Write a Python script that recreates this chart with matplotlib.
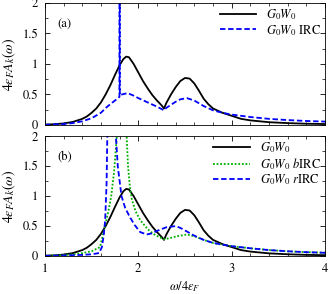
import matplotlib
matplotlib.use('Agg')
import matplotlib.pyplot as plt
from matplotlib.ticker import MultipleLocator

plt.rcParams['font.family'] = ['STIXGeneral', 'DejaVu Serif']
plt.rcParams['mathtext.fontset'] = 'stix'
plt.rcParams['font.size'] = 9

# G0W0 (same in both panels)
w_g0w0 = [1.0, 1.1, 1.2, 1.3, 1.4, 1.45, 1.5, 1.55, 1.6, 1.65, 1.7, 1.75, 1.8, 1.84,
          1.87, 1.9, 1.95, 2.0, 2.05, 2.1, 2.15, 2.2, 2.25, 2.275, 2.3, 2.35, 2.4,
          2.45, 2.5, 2.55, 2.6, 2.65, 2.7, 2.75, 2.8, 2.9, 3.0, 3.1, 3.2, 3.4, 3.6,
          3.8, 4.0]
a_g0w0 = [0.005, 0.012, 0.025, 0.05, 0.1, 0.14, 0.2, 0.27, 0.37, 0.5, 0.65, 0.82, 0.98,
          1.08, 1.12, 1.11, 1.0, 0.86, 0.72, 0.6, 0.49, 0.4, 0.32, 0.27, 0.36, 0.5,
          0.62, 0.72, 0.77, 0.76, 0.68, 0.56, 0.43, 0.34, 0.27, 0.2, 0.15, 0.1,
          0.075, 0.045, 0.03, 0.02, 0.015]

# G0W0 IRC (panel a)
w_irc = [1.0, 1.2, 1.3, 1.4, 1.5, 1.6, 1.66, 1.7, 1.75, 1.798, 1.799, 1.801, 1.802,
         1.85, 1.89, 1.95, 2.0, 2.1, 2.2, 2.275, 2.3, 2.35, 2.4, 2.45, 2.52, 2.6,
         2.7, 2.8, 2.9, 3.0, 3.2, 3.4, 3.6, 3.8, 4.0]
a_irc = [0.003, 0.015, 0.03, 0.06, 0.11, 0.2, 0.29, 0.34, 0.4, 0.46, 20.0, 20.0, 0.49,
         0.51, 0.52, 0.48, 0.44, 0.37, 0.3, 0.24, 0.28, 0.33, 0.38, 0.42, 0.44, 0.4,
         0.31, 0.24, 0.2, 0.17, 0.13, 0.1, 0.08, 0.065, 0.055]

# G0W0 bIRC (panel b)
w_birc = [1.0, 1.2, 1.3, 1.4, 1.5, 1.59, 1.64, 1.68, 1.71, 1.74, 1.77, 1.8, 1.83,
          1.86, 1.875, 1.89, 1.91, 1.93, 1.97, 2.02, 2.1, 2.16, 2.22, 2.275, 2.34,
          2.41, 2.52, 2.6, 2.7, 2.8, 2.9, 3.0, 3.2, 3.4, 3.6, 3.8, 4.0]
a_birc = [0.005, 0.015, 0.03, 0.05, 0.08, 0.15, 0.48, 0.75, 1.0, 1.4, 2.0, 3.0, 3.0,
          2.3, 2.0, 1.5, 1.15, 0.95, 0.75, 0.6, 0.45, 0.37, 0.32, 0.28, 0.3, 0.33,
          0.36, 0.33, 0.27, 0.22, 0.19, 0.165, 0.13, 0.1, 0.08, 0.065, 0.055]

# G0W0 rIRC (panel b)
w_rirc = [1.0, 1.2, 1.4, 1.5, 1.58, 1.61, 1.63, 1.645, 1.66, 1.67, 1.69, 1.72, 1.745,
          1.76, 1.78, 1.82, 1.86, 1.91, 1.96, 2.02, 2.09, 2.15, 2.2, 2.3, 2.4, 2.45,
          2.52, 2.6, 2.7, 2.8, 2.9, 3.0, 3.2, 3.4, 3.6, 3.8, 4.0]
a_rirc = [0.005, 0.01, 0.02, 0.03, 0.05, 0.15, 0.35, 0.6, 1.2, 2.2, 3.5, 3.5, 2.4,
          2.0, 1.5, 1.0, 0.8, 0.65, 0.52, 0.4, 0.36, 0.38, 0.42, 0.48, 0.5, 0.47,
          0.41, 0.34, 0.27, 0.22, 0.19, 0.165, 0.13, 0.1, 0.08, 0.065, 0.055]

blue = '#0000ff'
green = '#00b000'

fig = plt.figure(figsize=(3.28, 2.94), dpi=100)
ax1 = fig.add_axes([0.137, 0.575, 0.854, 0.415])
ax2 = fig.add_axes([0.137, 0.129, 0.854, 0.408])

ax1.plot(w_g0w0, a_g0w0, color='black', lw=1.3, label=r'$G_0W_0$')
ax1.plot(w_irc, a_irc, color=blue, lw=1.3, ls=(0, (3, 1.5)), label=r'$G_0W_0$ IRC')

ax2.plot(w_g0w0, a_g0w0, color='black', lw=1.3, label=r'$G_0W_0$')
ax2.plot(w_birc, a_birc, color=green, lw=1.3, ls=(0, (1, 1)), label=r'$G_0W_0$ $b$IRC')
ax2.plot(w_rirc, a_rirc, color=blue, lw=1.3, ls=(0, (3, 1.5)), label=r'$G_0W_0$ $r$IRC')

for ax, tag in ((ax1, '(a)'), (ax2, '(b)')):
    ax.set_xlim(1, 4)
    ax.set_ylim(0, 2)
    ax.xaxis.set_major_locator(MultipleLocator(1))
    ax.xaxis.set_minor_locator(MultipleLocator(0.2))
    ax.yaxis.set_major_locator(MultipleLocator(0.5))
    ax.yaxis.set_minor_locator(MultipleLocator(0.25))
    ax.tick_params(which='both', direction='in', top=True, right=True, pad=5)
    ax.tick_params(which='major', length=3.5, width=0.6)
    ax.tick_params(which='minor', length=2, width=0.5)
    ax.set_yticks([0, 0.5, 1, 1.5, 2])
    ax.set_yticklabels(['0', '0.5', '1', '1.5', '2'])
    for s in ax.spines.values():
        s.set_linewidth(0.6)
    ax.set_ylabel(r'$4\epsilon_F A_k(\omega)$', fontsize=10, labelpad=3)
    ax.text(0.045, 0.8, tag, transform=ax.transAxes, fontsize=9)
    ax.legend(loc='upper right', frameon=False, handlelength=2.9, handletextpad=0.8,
              labelspacing=0.05, borderaxespad=0.15, borderpad=0.2, fontsize=9)

ax1.tick_params(labelbottom=False)
ax2.set_xticks([1, 2, 3, 4])
ax2.set_xticklabels(['1', '2', '3', '4'])
ax2.set_xlabel(r'$\omega/4\epsilon_F$', labelpad=3)
fig.align_ylabels([ax1, ax2])

fig.savefig('out.png', dpi=100)
